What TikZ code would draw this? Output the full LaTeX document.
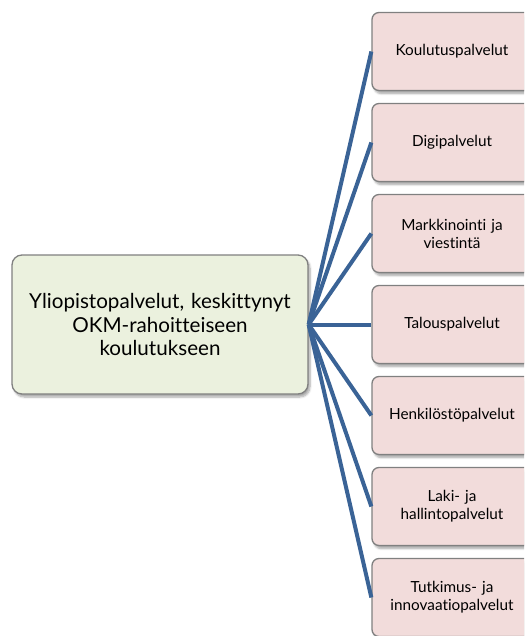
\documentclass[tikz,border=0pt]{standalone}
\usepackage{fontspec}
\setmainfont[Ligatures=NoCommon]{Lato}
\usetikzlibrary{shadows.blur}
\definecolor{linkblue}{RGB}{58,99,150}
\definecolor{rootfill}{RGB}{235,241,222}
\definecolor{leaffill}{RGB}{242,220,219}
\definecolor{edgegrey}{RGB}{128,128,128}
\tikzset{
  softshadow/.style={blur shadow={shadow xshift=2pt, shadow yshift=-3pt,
      shadow blur steps=6, shadow opacity=35}},
  rootbox/.style={draw=edgegrey, line width=1.3pt, fill=rootfill,
      rounded corners=10pt, softshadow, minimum width=296pt,
      minimum height=139pt, text width=285pt, align=center,
      font=\fontsize{20.6}{23.5}\selectfont},
  leafbox/.style={draw=edgegrey, line width=1.3pt, fill=leaffill,
      rounded corners=7pt, softshadow, minimum width=160pt,
      minimum height=78pt, text width=150pt, align=center,
      font=\fontsize{15.3}{18}\selectfont},
  link/.style={draw=linkblue, line width=4pt}
}
\begin{document}
\begin{tikzpicture}[x=1pt,y=-1pt]
  \useasboundingbox (0,0) rectangle (524,636);
  \clip (0,0) rectangle (524,636);

  % central unit
  \node[rootbox] (root) at (160,324.5)
    {Yliopistopalvelut, keskittynyt\\OKM-rahoitteiseen\\koulutukseen};

  % service units
  \node[leafbox] (s1) at (452,51.5)  {Koulutuspalvelut};
  \node[leafbox] (s2) at (452,142.5) {Digipalvelut};
  \node[leafbox] (s3) at (452,233.5) {Markkinointi ja\\viestintä};
  \node[leafbox] (s4) at (452,324.5) {Talouspalvelut};
  \node[leafbox] (s5) at (452,415.5) {Henkilöstöpalvelut};
  \node[leafbox] (s6) at (452,506.5) {Laki- ja\\hallintopalvelut};
  \node[leafbox] (s7) at (452,597.5) {Tutkimus- ja\\innovaatiopalvelut};

  % connectors
  \foreach \s in {s1,s2,s3,s4,s5,s6,s7}
    \draw[link] (root.east) -- (\s.west);
\end{tikzpicture}
\end{document}
